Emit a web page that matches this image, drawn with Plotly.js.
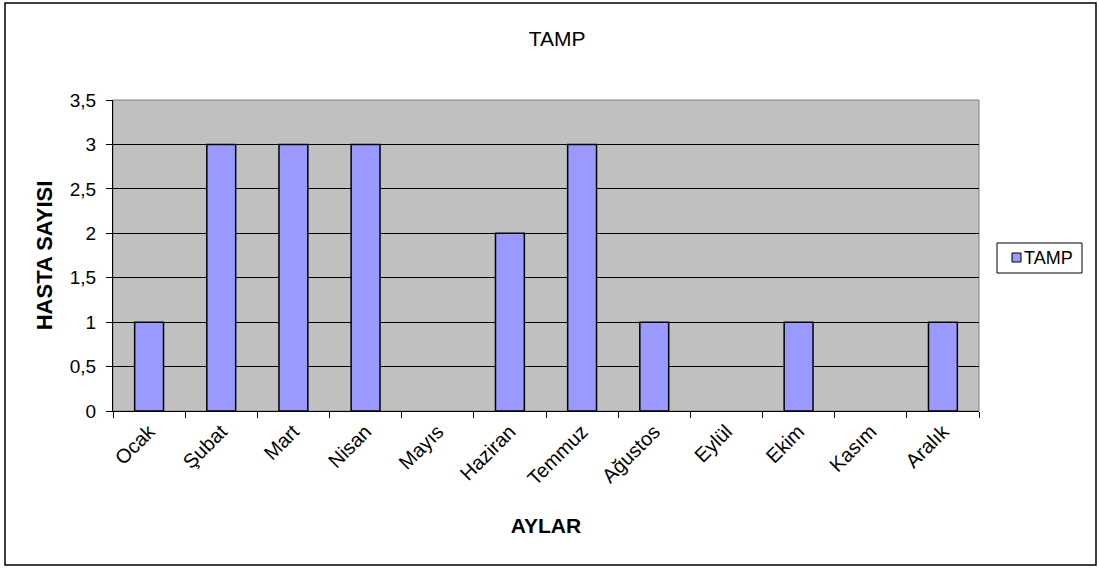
<!DOCTYPE html>
<html>
<head>
<meta charset="utf-8">
<script src="https://cdn.plot.ly/plotly-3.0.1.min.js"></script>
<style>
html,body{margin:0;padding:0;background:#fff;}
#chart{width:1099px;height:568px;}
</style>
</head>
<body>
<div id="chart"></div>
<script>
var months = ["Ocak","Şubat","Mart","Nisan","Mayıs","Haziran","Temmuz","Ağustos","Eylül","Ekim","Kasım","Aralık"];
var tampValues = [1,3,3,3,0,2,3,1,0,1,0,1];
var yTickVals = [0,0.5,1,1.5,2,2.5,3,3.5];
var seriesName = "TAMP";

var FONT = "Liberation Sans, Arial, sans-serif";
var BAR_COLOR = "#9999FF";

var trace = {
  type: "bar",
  x: months,
  y: tampValues,
  name: seriesName,
  marker: {color: BAR_COLOR, line: {color: "#000000", width: tampValues.map(function(v){ return v === 0 ? 0 : 1.5; })}},
  hoverinfo: "x+y"
};

var L = 113, R = 979, T = 100, B = 411, W = 1099, H = 568;
function px2x(p){ return (p - L) / (R - L); }
function py2y(p){ return (B - p) / (B - T); }

var layout = {
  width: W, height: H,
  margin: {l: L, r: W - R, t: T, b: H - B, pad: 0},
  paper_bgcolor: "#ffffff",
  plot_bgcolor: "#C0C0C0",
  separators: ",.",
  font: {family: FONT, size: 20, color: "#000"},
  title: {text: seriesName, font: {family: FONT, size: 21, color: "#000"}, x: 0.507, xanchor: "center", y: (H - 39) / H, yanchor: "middle", yref: "container"},
  bargap: 0.6,
  showlegend: false,
  xaxis: {
    type: "category",
    tickangle: -45,
    ticks: "outside", ticklen: 6, tickcolor: "#000", tickwidth: 1,
    tickson: "boundaries",
    showline: true, linecolor: "#000", linewidth: 1,
    showgrid: false,
    tickfont: {family: FONT, size: 20, color: "#000"},
    title: {text: "<b>AYLAR</b>", font: {family: FONT, size: 21, color: "#000"}, standoff: 29}
  },
  yaxis: {
    range: [0, 3.5],
    tickvals: yTickVals,
    ticks: "outside", ticklen: 6, tickcolor: "#000", tickwidth: 1,
    ticklabelstandoff: 6,
    showline: true, linecolor: "#000", linewidth: 1,
    showgrid: true, gridcolor: "#000", gridwidth: 1,
    zeroline: false,
    tickfont: {family: FONT, size: 19, color: "#000"},
    title: {text: "<b>HASTA SAYISI</b>", font: {family: FONT, size: 22, color: "#000"}, standoff: 11}
  },
  shapes: [
    {type: "rect", xref: "paper", yref: "paper", x0: 0, x1: 1, y0: 0, y1: 1, line: {color: "#808080", width: 1}, layer: "below"},
    {type: "rect", xref: "paper", yref: "paper", x0: px2x(5), x1: px2x(1096), y0: py2y(3), y1: py2y(565), line: {color: "#000", width: 1.5}, layer: "above"},
    {type: "rect", xref: "paper", yref: "paper", x0: px2x(997), x1: px2x(1082), y0: py2y(243), y1: py2y(273), line: {color: "#000", width: 1}, fillcolor: "#fff", layer: "above"},
    {type: "rect", xref: "paper", yref: "paper", x0: px2x(1012), x1: px2x(1021), y0: py2y(253), y1: py2y(262), line: {color: "#000", width: 1}, fillcolor: BAR_COLOR, layer: "above"}
  ],
  annotations: [
    {xref: "paper", yref: "paper", x: px2x(1022), y: py2y(258), xanchor: "left", yanchor: "middle", text: seriesName, showarrow: false, font: {family: FONT, size: 18, color: "#000"}}
  ]
};

Plotly.newPlot("chart", [trace], layout, {displayModeBar: false, staticPlot: true});
</script>
</body>
</html>
